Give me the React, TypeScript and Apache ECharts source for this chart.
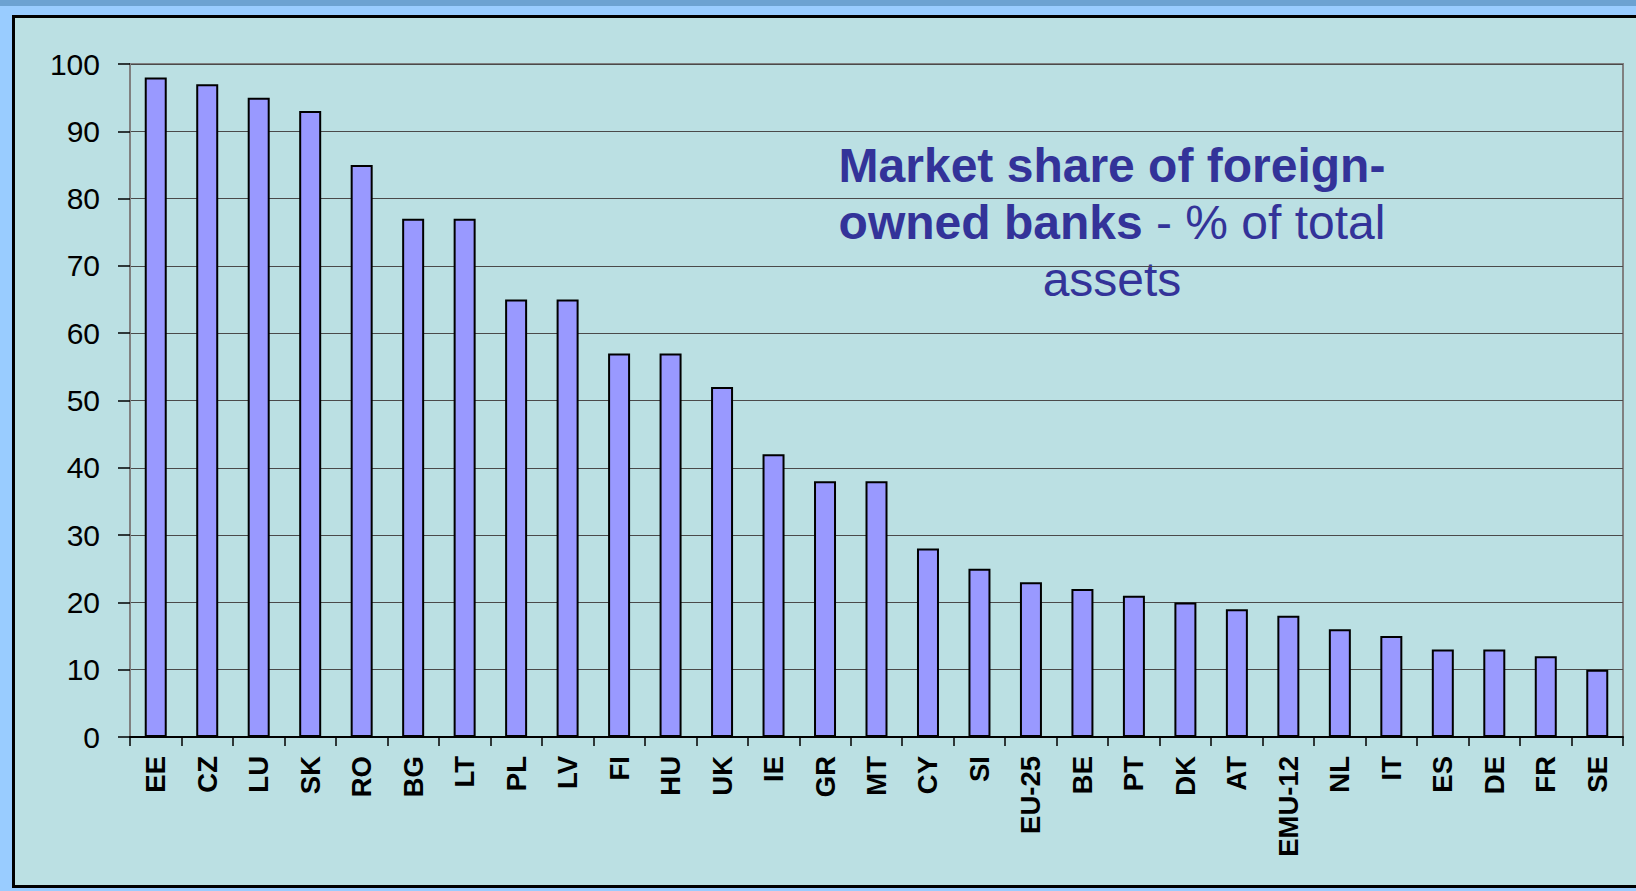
import React, { useEffect, useRef } from "react";
import * as echarts from "echarts";

const categories = ["EE","CZ","LU","SK","RO","BG","LT","PL","LV","FI","HU","UK","IE","GR","MT","CY","SI","EU-25","BE","PT","DK","AT","EMU-12","NL","IT","ES","DE","FR","SE"];
const values = [98,97,95,93,85,77,77,65,65,57,57,52,42,38,38,28,25,23,22,21,20,19,18,16,15,13,13,12,10];
const yTicks = [0,10,20,30,40,50,60,70,80,90,100];

export default function App() {
  const ref = useRef<HTMLDivElement>(null);
  useEffect(() => {
    if (!ref.current) return;
    const chart = echarts.init(ref.current, undefined, { renderer: "svg" });
    const titleColor = "#333399";
    const font = "'Liberation Sans', Arial, sans-serif";
    const fs = 48;
    chart.setOption({
      animation: false,
      backgroundColor: "transparent",
      grid: {
        left: 130, top: 64, right: 13, bottom: 154,
        show: true, borderColor: "#808080", borderWidth: 2,
      },
      xAxis: {
        type: "category",
        data: categories,
        axisLine: { lineStyle: { color: "#000", width: 2 } },
        axisTick: { show: true, length: 9, lineStyle: { color: "#000", width: 1.5 } },
        axisLabel: {
          rotate: 90, fontSize: 27.5, fontWeight: "bold", color: "#000",
          fontFamily: font, margin: 19, interval: 0,
        },
      },
      yAxis: {
        type: "value",
        min: yTicks[0], max: yTicks[yTicks.length - 1], interval: 10,
        axisLine: { show: true, lineStyle: { color: "#808080", width: 2 } },
        axisTick: { show: true, inside: false, length: 12, lineStyle: { color: "#000", width: 1.5 } },
        axisLabel: { fontSize: 30, color: "#000", fontFamily: font, margin: 30 },
        splitLine: { show: true, lineStyle: { color: "#4a4a4a", width: 1 } },
      },
      series: [{
        type: "bar",
        data: values,
        barWidth: 22,
        itemStyle: { color: "#9999ff", borderColor: "#000", borderWidth: 2 },
      }],
      graphic: [
        {
          type: "text", x: 1112, y: 141,
          style: {
            text: "Market share of foreign-", fill: titleColor, font: `bold ${fs}px ${font}`,
            textAlign: "center", verticalAlign: "top",
          },
        },
        {
          type: "text", x: 1112, y: 198,
          style: {
            text: "{b|owned banks}{n| - % of total}",
            fill: titleColor, font: `${fs}px ${font}`,
            textAlign: "center", verticalAlign: "top",
            rich: {
              b: { fontWeight: "bold", fontSize: fs, fontFamily: font, fill: titleColor, color: titleColor },
              n: { fontWeight: "normal", fontSize: fs, fontFamily: font, fill: titleColor, color: titleColor },
            },
          },
        },
        {
          type: "text", x: 1112, y: 255,
          style: {
            text: "assets", fill: titleColor, font: `${fs}px ${font}`,
            textAlign: "center", verticalAlign: "top",
          },
        },
      ],
    });
    return () => chart.dispose();
  }, []);
  return (
    <div style={{ position: "fixed", left: 0, top: 0, width: 1636, height: 891, background: "#99ccff", overflow: "hidden" }}>
      <div style={{ position: "absolute", left: 0, top: 0, width: 1636, height: 6, background: "#6ca2d2" }} />
      <div style={{ position: "absolute", left: 12, top: 15, width: 1640, height: 873, background: "#bbe0e3", border: "3px solid #000", boxSizing: "border-box" }} />
      <div ref={ref} style={{ position: "absolute", left: 0, top: 0, width: 1636, height: 891 }} />
    </div>
  );
}
